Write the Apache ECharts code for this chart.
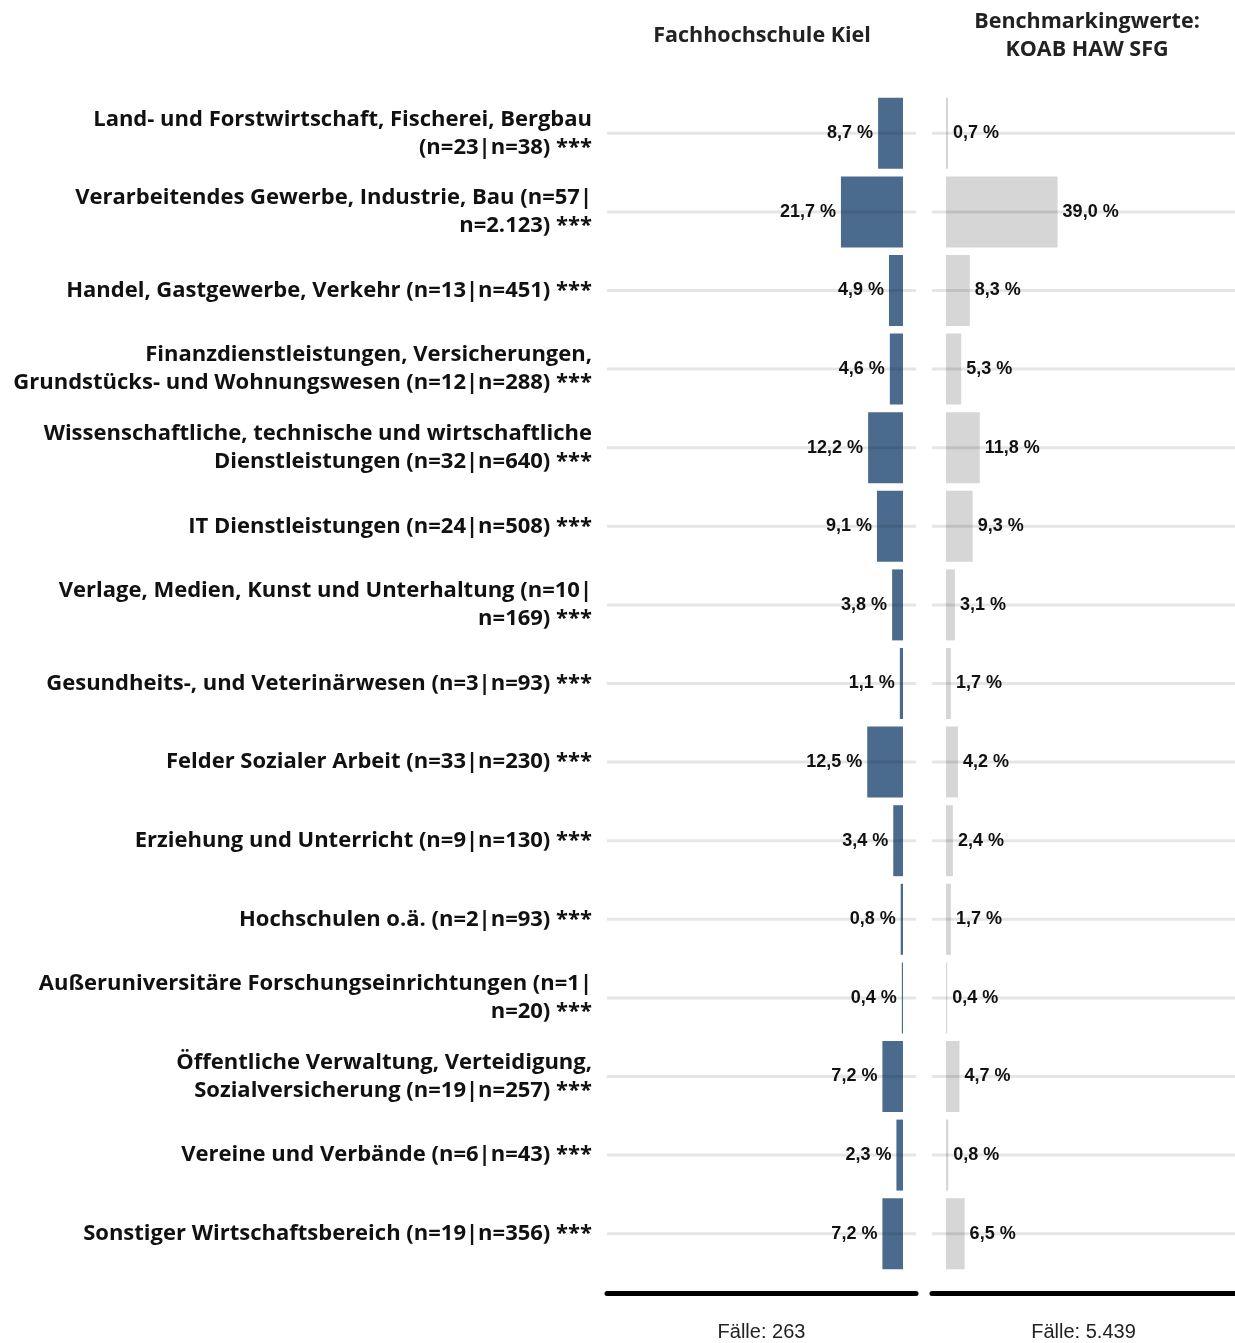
<!DOCTYPE html>
<html>
<head>
<meta charset="utf-8">
<script src="https://cdn.jsdelivr.net/npm/echarts@6/dist/echarts.min.js"></script>
<style>
  html, body { margin: 0; padding: 0; background: #fff; }
  #chart { width: 1235px; height: 1343px; }
</style>
</head>
<body>
<div id="chart"></div>
<script>
const categories = [
  'Land- und Forstwirtschaft, Fischerei, Bergbau\n(n=23|n=38) ***',
  'Verarbeitendes Gewerbe, Industrie, Bau (n=57|\nn=2.123) ***',
  'Handel, Gastgewerbe, Verkehr (n=13|n=451) ***',
  'Finanzdienstleistungen, Versicherungen,\nGrundstücks- und Wohnungswesen (n=12|n=288) ***',
  'Wissenschaftliche, technische und wirtschaftliche\nDienstleistungen (n=32|n=640) ***',
  'IT Dienstleistungen (n=24|n=508) ***',
  'Verlage, Medien, Kunst und Unterhaltung (n=10|\nn=169) ***',
  'Gesundheits-, und Veterinärwesen (n=3|n=93) ***',
  'Felder Sozialer Arbeit (n=33|n=230) ***',
  'Erziehung und Unterricht (n=9|n=130) ***',
  'Hochschulen o.ä. (n=2|n=93) ***',
  'Außeruniversitäre Forschungseinrichtungen (n=1|\nn=20) ***',
  'Öffentliche Verwaltung, Verteidigung,\nSozialversicherung (n=19|n=257) ***',
  'Vereine und Verbände (n=6|n=43) ***',
  'Sonstiger Wirtschaftsbereich (n=19|n=356) ***'
]
const fhKiel = [8.7, 21.7, 4.9, 4.6, 12.2, 9.1, 3.8, 1.1, 12.5, 3.4, 0.8, 0.4, 7.2, 2.3, 7.2]
const benchmark = [0.7, 39.0, 8.3, 5.3, 11.8, 9.3, 3.1, 1.7, 4.2, 2.4, 1.7, 0.4, 4.7, 0.8, 6.5]
const panelTitles = ['Fachhochschule Kiel', 'Benchmarkingwerte:\nKOAB HAW SFG']
const caseCounts = ['Fälle: 263', 'Fälle: 5.439']

const labelFont = '"Open Sans"'
const numFont = '"Liberation Sans", Arial, sans-serif'
const fmt = v => v.toFixed(1).replace('.', ',') + ' %'

// horizontal guide line per category, drawn across the whole panel
const guideLines = (params, api) => {
  const y = api.coord([0, api.value(1)])[1]
  const cs = params.coordSys
  return {
    type: 'line',
    shape: { x1: cs.x, y1: y, x2: cs.x + cs.width, y2: y },
    style: { stroke: 'rgba(0,0,0,0.1)', lineWidth: 3 }
  }
}

const xAxisBase = (gridIndex, min, max, inverse, name) => ({
  type: 'value',
  gridIndex,
  min,
  max,
  inverse,
  offset: 20,
  axisLine: { show: true, onZero: false, lineStyle: { color: '#000', width: 5 } },
  axisTick: { show: false },
  axisLabel: { show: false },
  splitLine: { show: false },
  name,
  nameLocation: 'middle',
  nameGap: 29,
  nameTextStyle: { fontFamily: numFont, fontSize: 20, color: '#222' }
})

const yAxisBase = (gridIndex, showLabel) => ({
  type: 'category',
  gridIndex,
  data: categories,
  inverse: true,
  axisLine: { show: false },
  axisTick: { show: false },
  splitLine: { show: false },
  axisLabel: {
    show: showLabel,
    margin: 15,
    fontFamily: labelFont,
    fontWeight: 'bold',
    fontSize: 22,
    lineHeight: 28,
    color: '#111',
    align: 'right'
  }
})

const chart = echarts.init(document.getElementById('chart'))
chart.setOption({
  animation: false,
  backgroundColor: '#fff',
  grid: [
    { left: 607, width: 309, top: 94, height: 1179, outerBoundsMode: 'none' },
    { left: 932, width: 303, top: 94, height: 1179, outerBoundsMode: 'none' }
  ],
  xAxis: [
    xAxisBase(0, -4.55, 103.5, true, caseCounts[0]),
    xAxisBase(1, -4.9, 101, false, caseCounts[1])
  ],
  yAxis: [yAxisBase(0, true), yAxisBase(1, false)],
  graphic: [
    {
      type: 'text', x: 762, y: 36,
      style: { text: panelTitles[0], font: 'bold 21.5px "Open Sans"', fill: '#222', align: 'center', verticalAlign: 'middle' }
    },
    {
      type: 'text', x: 1087, y: 36,
      style: { text: panelTitles[1], font: 'bold 21.5px "Open Sans"', lineHeight: 28, fill: '#222', align: 'center', verticalAlign: 'middle' }
    }
  ],
  series: [
    {
      type: 'bar',
      xAxisIndex: 0,
      yAxisIndex: 0,
      data: fhKiel,
      barWidth: 71,
      itemStyle: { color: '#4b6b8e' },
      label: {
        show: true,
        position: 'left',
        distance: 5,
        formatter: p => fmt(p.value),
        fontFamily: numFont,
        fontWeight: 'bold',
        fontSize: 18,
        color: '#111'
      }
    },
    {
      type: 'bar',
      xAxisIndex: 1,
      yAxisIndex: 1,
      data: benchmark,
      barWidth: 71,
      itemStyle: { color: '#d6d6d6' },
      label: {
        show: true,
        position: 'right',
        distance: 5,
        formatter: p => fmt(p.value),
        fontFamily: numFont,
        fontWeight: 'bold',
        fontSize: 18,
        color: '#111'
      }
    },
    {
      type: 'custom',
      xAxisIndex: 0,
      yAxisIndex: 0,
      z: 3,
      silent: true,
      renderItem: guideLines,
      encode: { x: 0, y: 1 },
      data: categories.map((c, i) => [0, i])
    },
    {
      type: 'custom',
      xAxisIndex: 1,
      yAxisIndex: 1,
      z: 3,
      silent: true,
      renderItem: guideLines,
      encode: { x: 0, y: 1 },
      data: categories.map((c, i) => [0, i])
    }
  ]
})
</script>
</body>
</html>
